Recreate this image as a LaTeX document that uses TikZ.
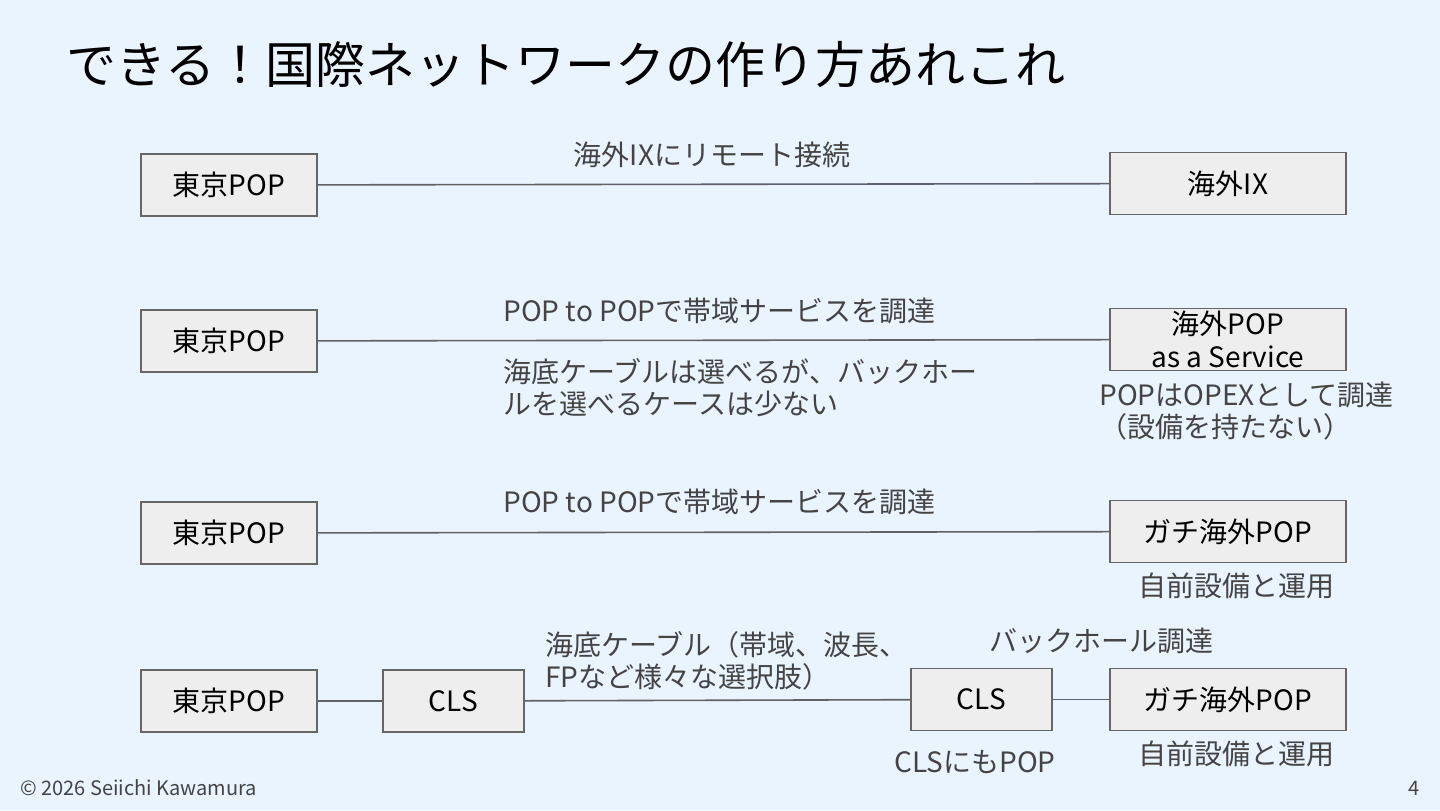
\documentclass[tikz,border=0pt]{standalone}
\usepackage{fontspec}
\setmainfont{Noto Sans CJK JP}
\usetikzlibrary{positioning}

\definecolor{slidebg}{HTML}{EAF4FE}
\definecolor{boxfill}{HTML}{EEEEEE}
\definecolor{boxline}{HTML}{666666}
\definecolor{wire}{HTML}{5F6368}
\definecolor{notegray}{HTML}{444444}

\tikzset{
	pop/.style = {draw = boxline, fill = boxfill, line width = 0.8pt, inner sep = 0pt,
		minimum width = 88pt, minimum height = 31pt, align = center,
		font = \fontsize{14pt}{16.5pt}\selectfont},
	widepop/.style = {pop, minimum width = 118pt},
	cls/.style = {pop, minimum width = 70.5pt},
	note/.style = {text = notegray, inner sep = 0pt, font = \fontsize{14pt}{16pt}\selectfont},
	wire/.style = {draw = wire, line width = 0.8pt}
}

\begin{document}
\begin{tikzpicture}[x = 0.5pt, y = -0.5pt]
	\fill [slidebg] (0,0) rectangle (1440,810);
	\useasboundingbox (0,0) rectangle (1440,810);

	\node [anchor = west, inner sep = 0pt, font = \fontsize{25pt}{30pt}\selectfont] (title) at (66,65)
		{できる！国際ネットワークの作り方あれこれ};

	% remote IX
	\begin{scope}
		\node [pop] (tokyoA) at (229,185) {東京POP};
		\node [widepop] (ix) at (1228,183.5) {海外IX};
		\draw [wire] (tokyoA) -- (ix);
		\node [note] (ixnote) at (712,155) {海外IXにリモート接続};
	\end{scope}

	% POP as a service
	\begin{scope}
		\node [pop] (tokyoB) at (229,341) {東京POP};
		\node [widepop] (paas) at (1228,339.5) {海外POP\\as a Service};
		\draw [wire] (tokyoB) -- (paas);
		\node [note, anchor = west] (bwB) at (503,311) {POP to POPで帯域サービスを調達};
		\node [note, anchor = west, align = left] (cableB) at (503,388)
			{海底ケーブルは選べるが、バックホー\\ルを選べるケースは少ない};
		\node [note, anchor = west, align = left] (opex) at (1099,411)
			{POPはOPEXとして調達\\（設備を持たない）};
	\end{scope}

	% own POP
	\begin{scope}
		\node [pop] (tokyoC) at (229,533) {東京POP};
		\node [widepop] (ownC) at (1228,531.5) {ガチ海外POP};
		\draw [wire] (tokyoC) -- (ownC);
		\node [note, anchor = west] (bwC) at (503,502) {POP to POPで帯域サービスを調達};
		\node [note] (opsC) at (1236,586) {自前設備と運用};
	\end{scope}

	% own POP via CLS
	\begin{scope}
		\node [pop] (tokyoD) at (229,701) {東京POP};
		\node [cls] (clsA) at (453.5,701) {CLS};
		\node [cls] (clsB) at (981.5,699.5) {CLS};
		\node [widepop] (ownD) at (1228,699.5) {ガチ海外POP};
		\draw [wire] (tokyoD) -- (clsA);
		\draw [wire] (clsA) -- (clsB);
		\draw [wire] (clsB) -- (ownD);
		\node [note, anchor = west, align = left] (cableD) at (545,661)
			{海底ケーブル（帯域、波長、\\FPなど様々な選択肢）};
		\node [note] (backhaul) at (1101,641) {バックホール調達};
		\node [note] (clspop) at (975,762) {CLSにもPOP};
		\node [note] (opsD) at (1236,754) {自前設備と運用};
	\end{scope}

	\node [anchor = west, inner sep = 0pt, text = notegray, font = \fontsize{10pt}{12pt}\selectfont] (credit) at (20,788)
		{© 2026 Seiichi Kawamura};
	\node [anchor = east, inner sep = 0pt, text = notegray, font = \fontsize{10pt}{12pt}\selectfont] (page) at (1420,788) {4};
\end{tikzpicture}
\end{document}
